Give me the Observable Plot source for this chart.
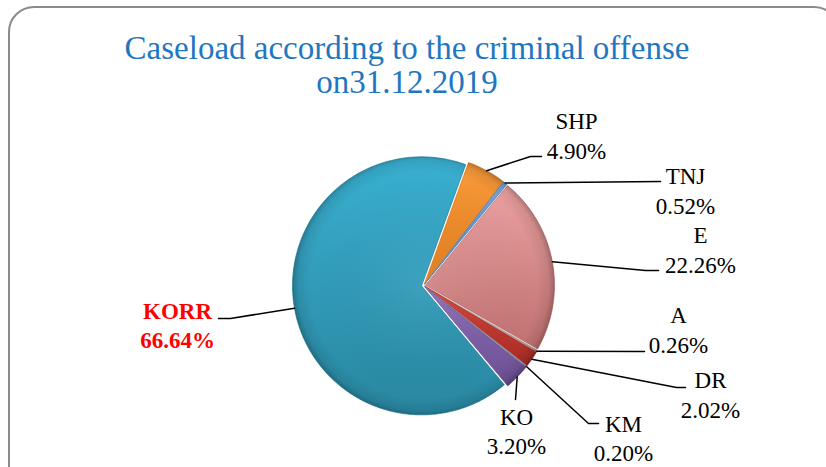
<!DOCTYPE html>
<html>
<head>
<meta charset="utf-8">
<script src="https://cdn.jsdelivr.net/npm/d3@7"></script>
<script src="https://cdn.jsdelivr.net/npm/@observablehq/plot@0.6"></script>
<style>
  body { margin: 0; background: #fff; }
  #wrap { position: relative; width: 826px; height: 467px; overflow: hidden; background: #fff; }
  #frame { position: absolute; left: 8px; top: 6px; width: 832px; height: 500px; border: 2px solid #8a8a8a; border-radius: 26px; box-sizing: border-box; }
  #title { position: absolute; left: 0; top: 0; width: 814px; height: 100px; padding-top: 31px; box-sizing: border-box;
           text-align: center; font-family: "Liberation Serif", "Times New Roman", serif; font-size: 33px; line-height: 34px; color: #1f77c0; }
  #chart { position: absolute; left: 0; top: 100px; }
</style>
</head>
<body>
<div id="wrap">
  <div id="frame"></div>
  <div id="title">Caseload according to the criminal offense<br>on31.12.2019</div>
  <div id="chart"></div>
</div>
<script>
// ---- data ----
const categories = ["SHP", "TNJ", "E", "A", "DR", "KM", "KO", "KORR"];
const shares = [4.90, 0.52, 22.26, 0.26, 2.02, 0.20, 3.20, 66.64];
const valueLabels = ["4.90%", "0.52%", "22.26%", "0.26%", "2.02%", "0.20%", "3.20%", "66.64%"];

// ---- styles ----
const sliceColors = {
  SHP:  ["#fa9c3c", "#e07a18"],
  TNJ:  ["#7aa6da", "#4f7fb8"],
  E:    ["#eba1a1", "#c07070"],
  A:    ["#d0bcbc", "#a89090"],
  DR:   ["#d6443a", "#a82b24"],
  KM:   ["#b7b7c4", "#8e8e9c"],
  KO:   ["#8f6fb8", "#6a4f94"],
  KORR: ["#39b0d1", "#2986a0"]
};

// ---- layout (page pixel coordinates) ----
const CX = 423, CY = 285, R = 129, START_DEG = 20, EXPLODE = 2;
const labelLayout = {
  SHP:  {x: 576, y1: 128, y2: 158, leader: [[530, 156], [541, 156]]},
  TNJ:  {x: 685, y1: 183, y2: 213, leader: [[660, 181]]},
  E:    {x: 700, y1: 242, y2: 272, leader: [[645, 270], [658, 270]]},
  A:    {x: 678, y1: 322, y2: 352, leader: [[644, 351]]},
  DR:   {x: 710, y1: 387, y2: 417, leader: [[676, 387], [685, 387]]},
  KM:   {x: 623, y1: 431, y2: 460, leader: [[588, 423], [598, 423]]},
  KO:   {x: 516, y1: 424, y2: 453, leader: [[515, 399]]},
  KORR: {x: 177, y1: 318, y2: 347, leader: [[230, 318], [218, 318]]}
};

// ---- geometry from data ----
const a0 = START_DEG * Math.PI / 180;
const arcs = d3.pie().sort(null).startAngle(a0).endAngle(a0 + 2 * Math.PI)(shares);
const pt = (ang, r, ox, oy) => ({x: CX + ox + r * Math.sin(ang), y: CY + oy - r * Math.cos(ang)});

const slices = arcs.map((a, i) => {
  const name = categories[i];
  const mid = (a.startAngle + a.endAngle) / 2;
  const ox = EXPLODE * Math.sin(mid), oy = -EXPLODE * Math.cos(mid);
  const n = Math.max(2, Math.ceil((a.endAngle - a.startAngle) / (Math.PI / 360)));
  const pts = [{name, ...pt(0, 0, ox, oy)}];
  for (let k = 0; k <= n; k++) pts.push({name, ...pt(a.startAngle + (a.endAngle - a.startAngle) * k / n, R, ox, oy)});
  pts.push({name, ...pt(0, 0, ox, oy)});
  const anchor = pt(mid, R, ox, oy);
  return {name, pts, anchor, i};
});

const leaders = slices.map(s => {
  const L = labelLayout[s.name];
  return [{name: s.name, x: s.anchor.x, y: s.anchor.y}, ...L.leader.map(([x, y]) => ({name: s.name, x, y}))];
}).flat();

const labels = categories.map((c, i) => ({name: c, value: valueLabels[i], ...labelLayout[c]}));
const plainLabels = labels.filter(d => d.name !== "KORR");
const redLabels = labels.filter(d => d.name === "KORR");

const font = "'Liberation Serif', 'Times New Roman', serif";
const marks = [];
marks.push(Plot.line(slices.flatMap(s => s.pts), {x: "x", y: "y", z: "name", fill: "#000", fillOpacity: 0.28, stroke: "none", dx: 3, dy: 4, curve: "linear", ariaLabel: "shadow"}));
for (const s of slices) {
  marks.push(Plot.line(s.pts, {x: "x", y: "y", fill: `url(#grad-${s.name})`, stroke: sliceColors[s.name][1], strokeWidth: 0.8, curve: "linear"}));
}
marks.push(Plot.line(slices.flatMap(s => s.pts), {x: "x", y: "y", z: "name", fill: "url(#rim)", stroke: "none", curve: "linear"}));
marks.push(Plot.line(leaders, {x: "x", y: "y", z: "name", stroke: "#000", strokeWidth: 1.5, curve: "linear"}));
for (const [key, data, fill, weight] of [["name", plainLabels, "#000", "normal"], ["value", plainLabels, "#000", "normal"], ["name", redLabels, "#ff0000", "bold"], ["value", redLabels, "#ff0000", "bold"]]) {
  marks.push(Plot.text(data, {x: "x", y: key === "name" ? "y1" : "y2", text: key, lineAnchor: "bottom", textAnchor: "middle",
    fontFamily: font, fontSize: 23, fill, fontWeight: weight}));
}

const chart = Plot.plot({
  width: 826, height: 367, margin: 0,
  x: {domain: [0, 826], range: [0, 826], axis: null},
  y: {domain: [100, 467], range: [0, 367], axis: null},
  style: {background: "transparent", overflow: "visible"},
  marks
});

const px = chart.scale("x").apply(CX), py = chart.scale("y").apply(CY);
const pr = chart.scale("x").apply(CX + R) - px;
let defs = `<defs>
  <filter id="blur" x="-20%" y="-20%" width="140%" height="140%"><feGaussianBlur stdDeviation="3"/></filter>
  <radialGradient id="rim" gradientUnits="userSpaceOnUse" cx="${px}" cy="${py}" r="${pr + 3}">
    <stop offset="0" stop-color="#fff" stop-opacity="0.06"/>
    <stop offset="0.86" stop-color="#000" stop-opacity="0"/>
    <stop offset="0.95" stop-color="#000" stop-opacity="0.08"/>
    <stop offset="1" stop-color="#000" stop-opacity="0.28"/>
  </radialGradient>`;
for (const c of categories) {
  defs += `<linearGradient id="grad-${c}" x1="0" y1="0" x2="0" y2="1">
    <stop offset="0" stop-color="${sliceColors[c][0]}"/>
    <stop offset="1" stop-color="${sliceColors[c][1]}"/></linearGradient>`;
}
defs += `</defs>`;
chart.insertAdjacentHTML("afterbegin", defs);
const sh = chart.querySelector('[aria-label="shadow"]');
if (sh) sh.setAttribute("filter", "url(#blur)");

document.getElementById("chart").appendChild(chart);
</script>
</body>
</html>
